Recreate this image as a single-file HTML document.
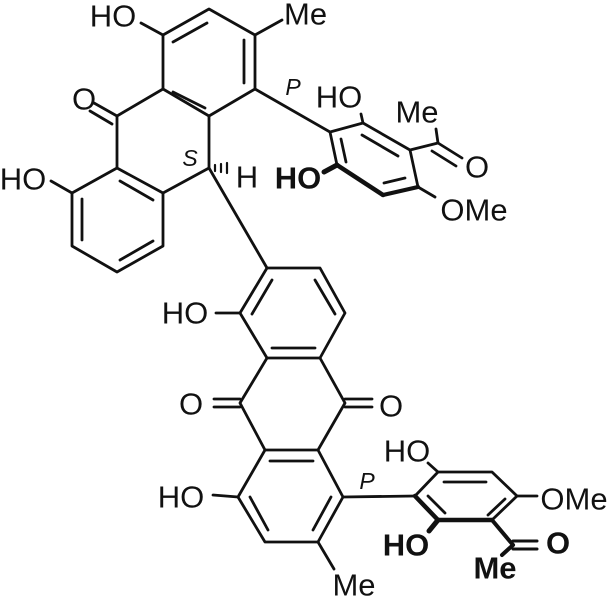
<!DOCTYPE html>
<html><head><meta charset="utf-8"><style>
html,body{margin:0;padding:0;background:#fff;}
svg{display:block;}
text{font-family:"Liberation Sans",Arial,sans-serif;font-size:31px;fill:#111;text-anchor:middle;dominant-baseline:central;}
.i{font-style:italic;font-size:23px;}
.b{font-weight:bold;}
.s{text-anchor:start;}
</style></head><body>
<svg width="610" height="600" viewBox="0 0 610 600" xmlns="http://www.w3.org/2000/svg">
<g stroke="#111" stroke-width="2.8" fill="none" stroke-linecap="round" stroke-linejoin="round">
<polyline points="163,35 209,9 255,35 255,89 209,116 163,89 163,35"/>
<line x1="173" y1="42" x2="207" y2="23"/>
<line x1="244" y1="40" x2="244" y2="83"/>
<line x1="173" y1="92" x2="205" y2="108"/>
<polyline points="163,89 117,116 117,168 163,193"/>
<polyline points="209,116 209,168 163,193"/>
<polyline points="117,168 72,193 72,246 117,272 163,246 163,193"/>
<line x1="120" y1="181" x2="153" y2="200"/>
<line x1="82" y1="199" x2="82" y2="240"/>
<line x1="120" y1="260" x2="153" y2="241"/>
<line x1="117" y1="116" x2="94" y2="103"/>
<line x1="112" y1="124" x2="90" y2="111"/>
<line x1="163" y1="35" x2="141" y2="23"/>
<line x1="255" y1="35" x2="282" y2="20"/>
<line x1="72" y1="193" x2="51" y2="181"/>
<line x1="215" y1="165" x2="215" y2="171" stroke-width="2.2"/>
<line x1="221" y1="164" x2="221" y2="172" stroke-width="2.2"/>
<line x1="227" y1="163" x2="227" y2="173" stroke-width="2.2"/>
<line x1="209" y1="168" x2="267" y2="268"/>
<line x1="255" y1="89" x2="330" y2="132"/>
<polyline points="330,132 363,123 410,150 418,187"/>
<line x1="330" y1="132" x2="337" y2="165"/>
<line x1="341" y1="139" x2="346" y2="162"/>
<line x1="362" y1="135" x2="398" y2="156"/>
<line x1="384" y1="183" x2="405" y2="178"/>
<line x1="337" y1="165" x2="383" y2="195" stroke-width="4.5"/>
<line x1="383" y1="195" x2="418" y2="187" stroke-width="4"/>
<line x1="337" y1="165" x2="324" y2="172" stroke-width="5"/>
<line x1="363" y1="123" x2="361" y2="114"/>
<line x1="410" y1="150" x2="438" y2="143"/>
<line x1="438" y1="143" x2="436" y2="129"/>
<line x1="438" y1="143" x2="462" y2="158"/>
<line x1="432" y1="151" x2="456" y2="166"/>
<line x1="418" y1="187" x2="435" y2="197"/>
<polyline points="267,268 320,268 345,313 320,358 267,358 240,313 267,268"/>
<line x1="272" y1="280" x2="252" y2="314"/>
<line x1="315" y1="280" x2="335" y2="314"/>
<line x1="272" y1="348" x2="315" y2="348"/>
<line x1="240" y1="313" x2="216" y2="313"/>
<polyline points="267,358 240,403 265,450"/>
<polyline points="320,358 345,403 318,450"/>
<line x1="240" y1="399" x2="214" y2="399"/>
<line x1="240" y1="407" x2="214" y2="407"/>
<line x1="345" y1="399" x2="372" y2="399"/>
<line x1="345" y1="407" x2="372" y2="407"/>
<polyline points="265,450 318,450 343,497 318,542 265,542 238,497 265,450"/>
<line x1="270" y1="461" x2="313" y2="461"/>
<line x1="250" y1="497" x2="268" y2="530"/>
<line x1="331" y1="497" x2="313" y2="530"/>
<line x1="238" y1="497" x2="213" y2="495"/>
<line x1="318" y1="542" x2="334" y2="569"/>
<line x1="343" y1="497" x2="415" y2="496"/>
<polyline points="415,496 438,472 492,472 517,496"/>
<line x1="415" y1="496" x2="438" y2="520" stroke-width="4.5"/>
<line x1="438" y1="520" x2="492" y2="520" stroke-width="4.5"/>
<line x1="517" y1="496" x2="492" y2="520"/>
<line x1="444" y1="482" x2="486" y2="482"/>
<line x1="428" y1="496" x2="445" y2="513"/>
<line x1="505" y1="499" x2="488" y2="515"/>
<line x1="438" y1="472" x2="428" y2="463"/>
<line x1="517" y1="496" x2="537" y2="496"/>
<line x1="438" y1="520" x2="429" y2="531" stroke-width="5"/>
<line x1="492" y1="520" x2="513" y2="545" stroke-width="4"/>
<line x1="513" y1="541" x2="537" y2="541" stroke-width="3"/>
<line x1="513" y1="549" x2="537" y2="549" stroke-width="3"/>
<line x1="513" y1="545" x2="502" y2="555" stroke-width="4"/>
</g>
<text x="113" y="16">HO</text>
<text class="s" x="284" y="14">Me</text>
<text x="84" y="99">O</text>
<text x="23" y="179">HO</text>
<text x="247" y="177">H</text>
<text class="i" x="190" y="158">S</text>
<text class="i" x="293" y="87">P</text>
<text x="339" y="97">HO</text>
<text x="417" y="112">Me</text>
<text x="477" y="167">O</text>
<text x="474" y="210">OMe</text>
<text class="b" x="298" y="178">HO</text>
<text x="185" y="313">HO</text>
<text x="191" y="404">O</text>
<text x="391" y="406">O</text>
<text x="181" y="497">HO</text>
<text class="i" x="367" y="481">P</text>
<text x="354" y="585">Me</text>
<text x="407" y="451">HO</text>
<text x="574" y="499">OMe</text>
<text class="b" x="406" y="545">HO</text>
<text class="b" x="558" y="543">O</text>
<text class="b" x="495" y="568">Me</text>
</svg>
</body></html>
